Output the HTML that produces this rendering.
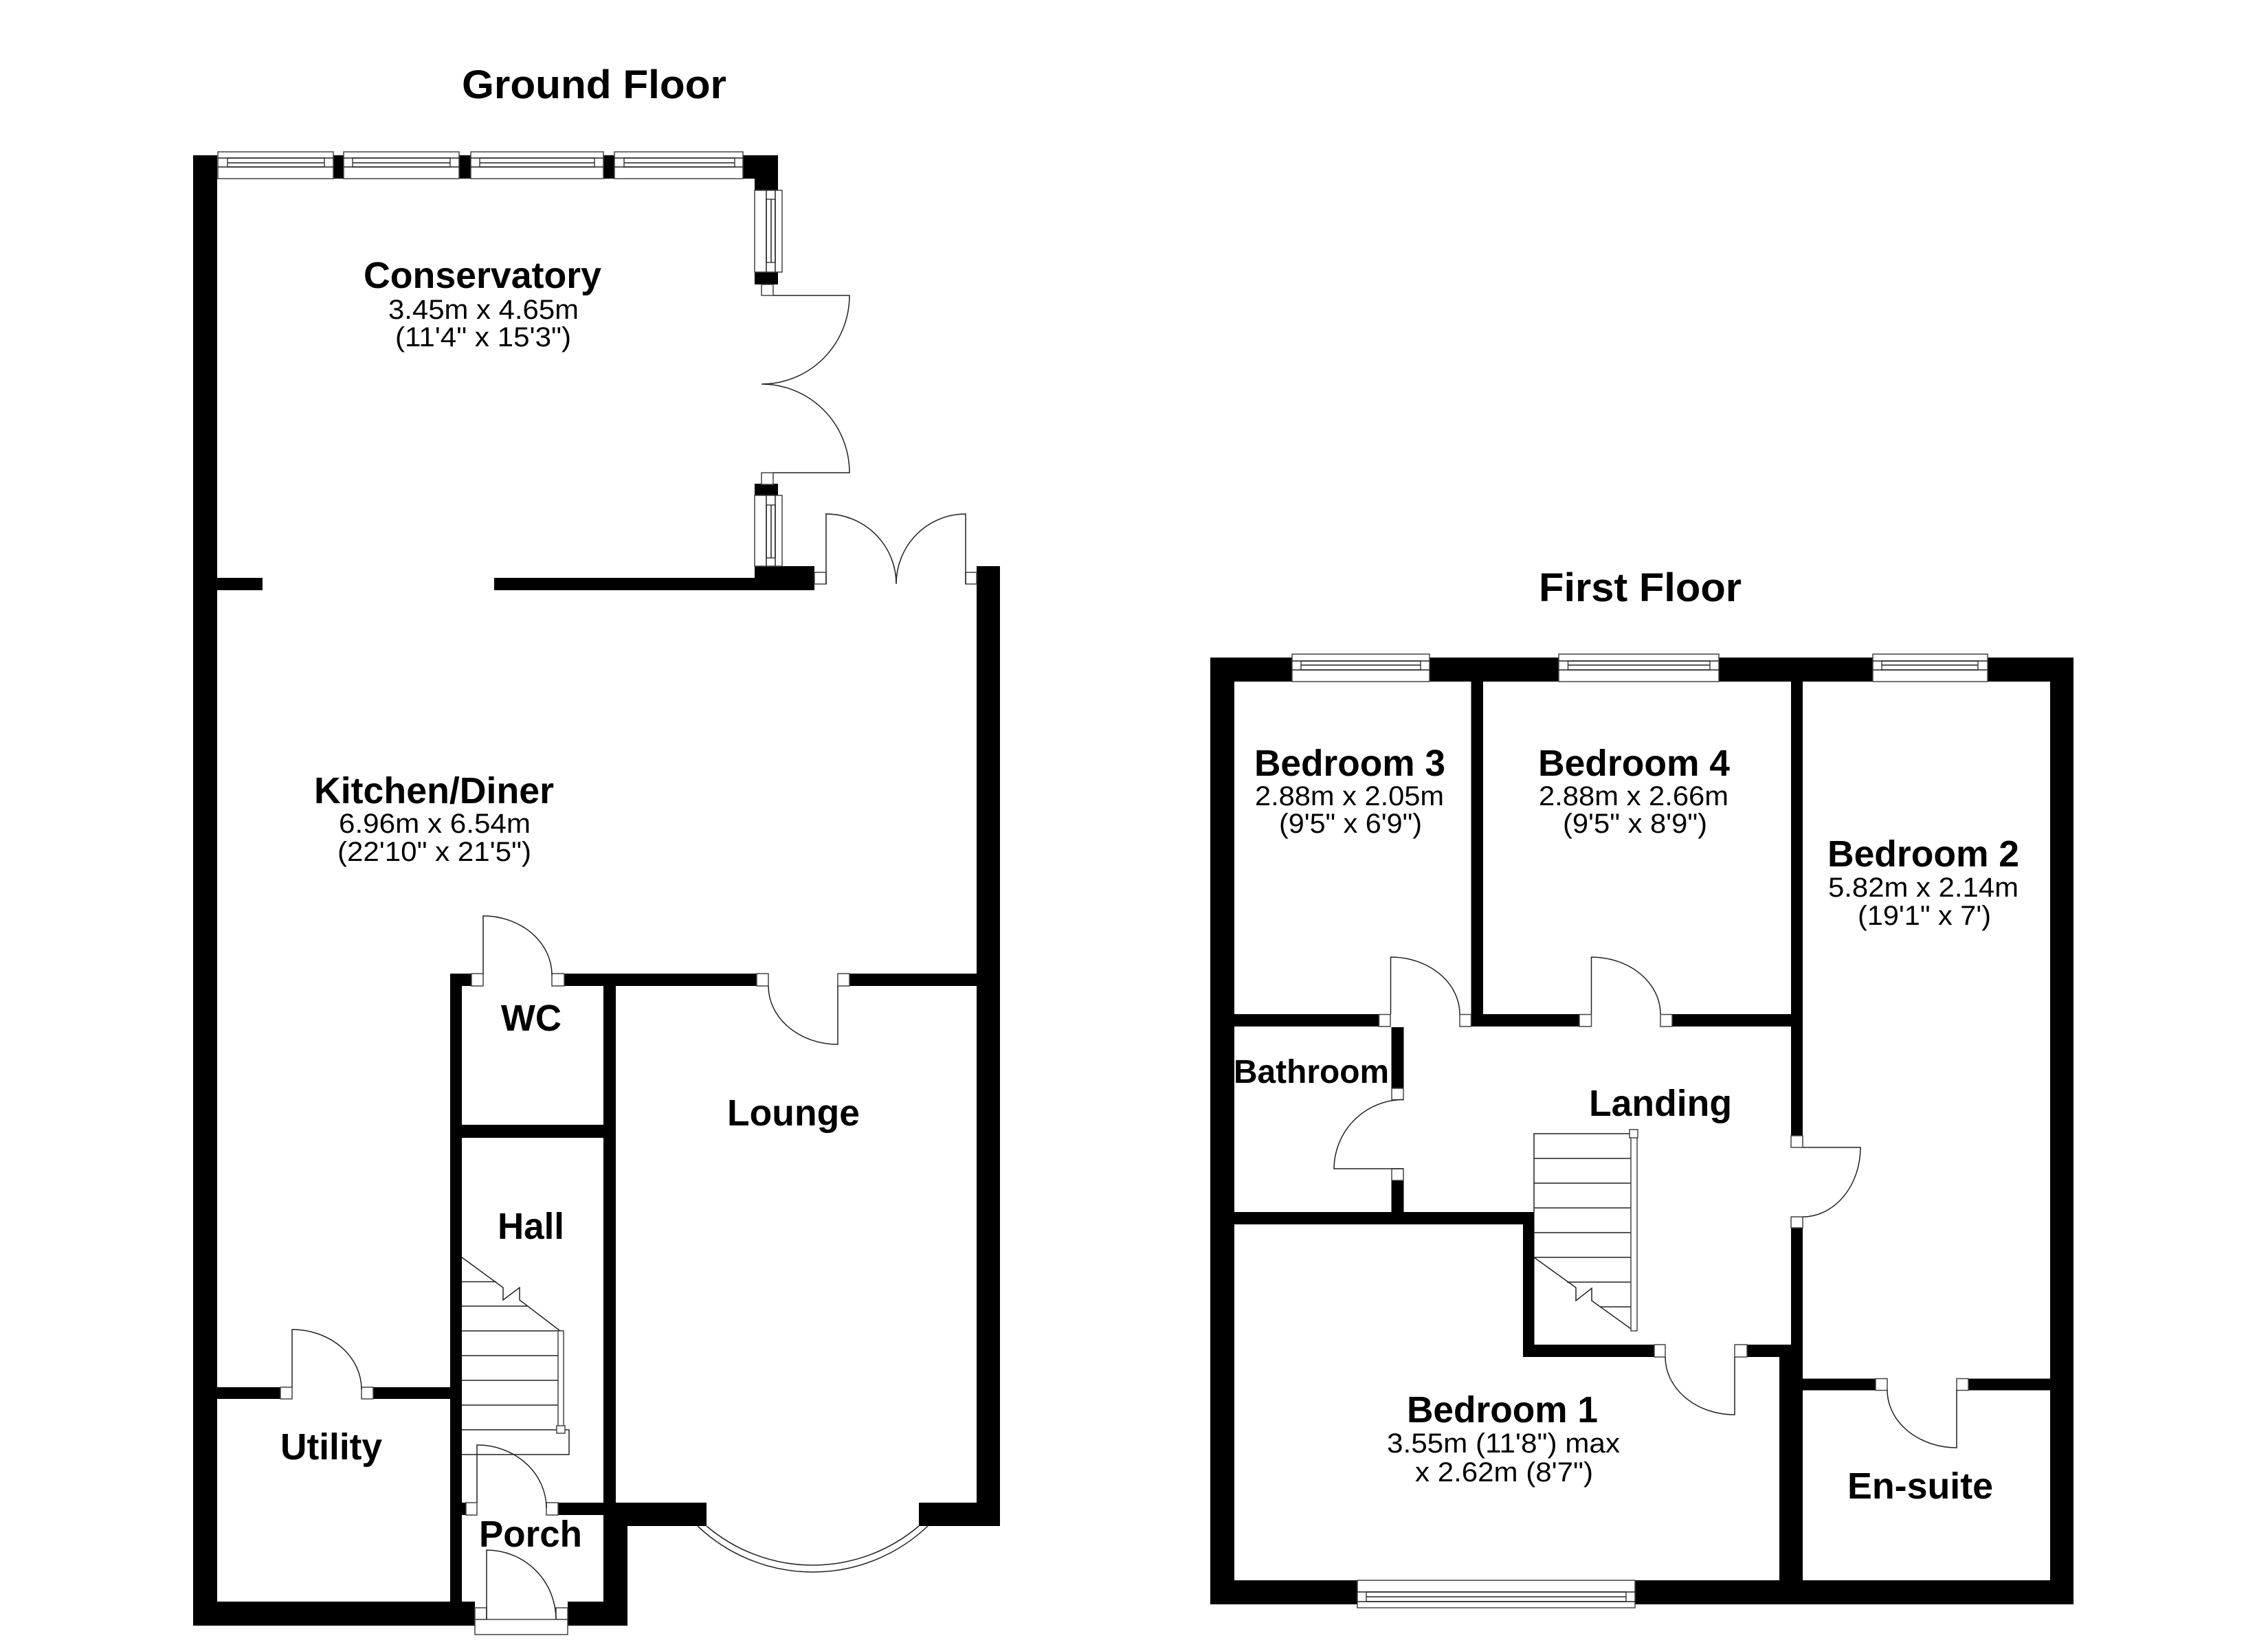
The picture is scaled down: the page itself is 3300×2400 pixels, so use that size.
<!DOCTYPE html>
<html>
<head>
<meta charset="utf-8">
<style>
html,body{margin:0;padding:0;background:#fff;width:3300px;height:2400px;overflow:hidden}
svg{display:block}
text{font-family:"Liberation Sans",Arial,sans-serif;fill:#000}
.t{font-weight:bold;font-size:58px}
.l{font-weight:bold;font-size:54px}
.d{font-size:40px}
.b{fill:#000;stroke:none}
.w{fill:#fff;stroke:#444;stroke-width:1.5}
.n{fill:none;stroke:#222;stroke-width:1.5}
</style>
</head>
<body>
<svg width="3300" height="2400" viewBox="0 0 3300 2400" xmlns="http://www.w3.org/2000/svg">
<rect width="3300" height="2400" fill="#fff"/>

<!-- GROUND FLOOR WALLS -->
<g class="b">
<rect x="281" y="226" width="35" height="2140"/>
<rect x="485" y="226" width="15" height="34"/>
<rect x="668" y="226" width="17" height="34"/>
<rect x="878" y="226" width="16" height="34"/>
<rect x="1081" y="226" width="51" height="34"/>
<rect x="1098" y="226" width="34" height="51"/>
<rect x="1098" y="396" width="34" height="18"/>
<rect x="1098" y="704" width="34" height="17"/>
<rect x="1098" y="824" width="87" height="35"/>
<rect x="719" y="841" width="379" height="18"/>
<rect x="316" y="841" width="66" height="18"/>
<rect x="1421" y="824" width="34" height="1397"/>
<rect x="655" y="1417" width="31" height="18"/>
<rect x="821" y="1417" width="280" height="18"/>
<rect x="1236" y="1417" width="185" height="18"/>
<rect x="655" y="1417" width="17" height="914"/>
<rect x="878" y="1417" width="18" height="914"/>
<rect x="896" y="2221" width="17" height="145"/>
<rect x="281" y="2331" width="410" height="35"/>
<rect x="826" y="2331" width="87" height="35"/>
<rect x="672" y="1637" width="206" height="19"/>
<rect x="316" y="2019" width="92" height="17"/>
<rect x="543" y="2019" width="112" height="17"/>
<rect x="672" y="2187" width="6" height="18"/>
<rect x="812" y="2187" width="66" height="18"/>
<rect x="896" y="2187" width="132" height="34"/>
<rect x="1337" y="2187" width="118" height="34"/>
</g>

<!-- Conservatory top windows -->
<g class="w">
<rect x="317" y="221" width="168" height="39"/><rect x="331" y="230" width="141" height="13"/>
<rect x="500" y="221" width="168" height="39"/><rect x="513" y="230" width="142" height="13"/>
<rect x="685" y="221" width="193" height="39"/><rect x="698" y="230" width="167" height="13"/>
<rect x="894" y="221" width="187" height="39"/><rect x="908" y="230" width="161" height="13"/>
</g>
<path class="n" d="M317 230H485M317 243H485M331 237H472M500 230H668M500 243H668M513 237H655M685 230H878M685 243H878M698 237H865M894 230H1081M894 243H1081M908 237H1069"/>

<!-- Conservatory side windows -->
<g class="w">
<rect x="1098" y="277" width="40" height="119"/><rect x="1115" y="290" width="13" height="92"/>
<rect x="1098" y="721" width="40" height="103"/><rect x="1115" y="735" width="13" height="77"/>
</g>
<path class="n" d="M1115 277V396M1128 277V396M1122 290V382M1115 721V824M1128 721V824M1122 735V812"/>

<!-- Jambs ground -->
<g class="w">
<rect x="1108" y="414" width="17" height="16"/>
<rect x="1108" y="688" width="17" height="17"/>
<rect x="1185" y="833" width="17" height="17"/>
<rect x="1405" y="833" width="16" height="17"/>
<rect x="686" y="1417" width="17" height="18"/>
<rect x="803" y="1417" width="18" height="18"/>
<rect x="1101" y="1417" width="17" height="18"/>
<rect x="1219" y="1417" width="17" height="18"/>
<rect x="408" y="2019" width="17" height="17"/>
<rect x="526" y="2019" width="17" height="17"/>
<rect x="678" y="2187" width="16" height="18"/>
<rect x="795" y="2187" width="17" height="18"/>
<rect x="691" y="2340" width="17" height="17"/>
<rect x="809" y="2340" width="17" height="17"/>
<rect x="691" y="2357" width="135" height="22"/>
</g>

<!-- Door leaves ground -->
<path class="n" d="M1125 430H1236A128 129 0 0 1 1108 559A128 129 0 0 1 1236 688H1125"/>
<path class="n" d="M1202 850V748A102 102 0 0 1 1304 850A101 102 0 0 1 1405 748V850"/>
<path class="n" d="M703 1417V1333A100 86 0 0 1 803 1419"/>
<path class="n" d="M1118 1435A101 85 0 0 0 1219 1520V1435"/>
<path class="n" d="M425 2019V1935A101 87 0 0 1 526 2022"/>
<path class="n" d="M694 2187V2103A101 92 0 0 1 795 2195"/>
<path class="n" d="M708 2340V2256A101 101 0 0 1 809 2357"/>
<path class="n" d="M708 2340V2357"/>

<!-- Bay window -->
<path class="n" d="M1015 2221A243 243 0 0 0 1350 2221"/>
<path class="n" d="M1028 2221A238 238 0 0 0 1337 2221"/>

<!-- Stairs ground -->
<path class="n" d="M672 1830L732 1874V1892L756 1874V1892L815 1937"/>
<path class="n" d="M672 1865.500H722M672 1901H768M672 1937H820M672 1973H812M672 2009H812M672 2045H812M672 2081H828V2117H672"/>
<rect class="w" x="812" y="1937" width="8" height="144"/>
<rect class="w" x="810" y="2075" width="12" height="11"/>

<!-- FIRST FLOOR WALLS -->
<g class="b">
<rect x="1761" y="957" width="1256" height="35"/>
<rect x="1761" y="957" width="35" height="1378"/>
<rect x="2983" y="957" width="34" height="1378"/>
<rect x="1761" y="2300" width="1256" height="35"/>
<rect x="2140.500" y="992" width="17.500" height="502"/>
<rect x="2606" y="992" width="17" height="661"/>
<rect x="2606" y="1787" width="17" height="513"/>
<rect x="2589" y="1975" width="34" height="325"/>
<rect x="1796" y="1476" width="210" height="18"/>
<rect x="2140" y="1476" width="158" height="18"/>
<rect x="2433" y="1476" width="173" height="18"/>
<rect x="2024.500" y="1495" width="18" height="89"/>
<rect x="2024.500" y="1718" width="18" height="46"/>
<rect x="1796" y="1764" width="436.500" height="18"/>
<rect x="2216" y="1764" width="16.500" height="211"/>
<rect x="2216" y="1957" width="191" height="18"/>
<rect x="2542" y="1957" width="64" height="18"/>
<rect x="2623" y="2006.500" width="106" height="17"/>
<rect x="2864" y="2006.500" width="119" height="17"/>
</g>

<!-- First floor windows -->
<g class="w">
<rect x="1880" y="952" width="200" height="40"/><rect x="1893" y="962" width="174" height="13"/>
<rect x="2268" y="952" width="233" height="40"/><rect x="2281.500" y="962" width="206.500" height="13"/>
<rect x="2725" y="952" width="167" height="40"/><rect x="2738" y="962" width="140" height="13"/>
<rect x="1975" y="2300" width="404" height="40"/><rect x="1988" y="2317" width="378" height="14"/>
</g>
<path class="n" d="M1880 962H2080M1880 975H2080M1893 968H2067M2268 962H2501M2268 975H2501M2281 968H2488M2725 962H2892M2725 975H2892M2738 968H2878M1975 2317H2379M1975 2331H2379M1988 2324H2366"/>

<!-- Jambs first -->
<g class="w">
<rect x="2006.500" y="1476.500" width="16.500" height="17.500"/>
<rect x="2124" y="1476.500" width="16.500" height="17.500"/>
<rect x="2298" y="1476.500" width="17.500" height="17.500"/>
<rect x="2416" y="1476.500" width="17" height="17.500"/>
<rect x="2025" y="1584" width="17" height="16.500"/>
<rect x="2025" y="1701" width="17" height="17"/>
<rect x="2606" y="1653" width="17" height="17"/>
<rect x="2606" y="1771" width="17" height="16"/>
<rect x="2407" y="1957" width="16" height="18"/>
<rect x="2524" y="1957" width="18" height="18"/>
<rect x="2729" y="2006.500" width="17" height="17"/>
<rect x="2847" y="2006.500" width="17" height="17"/>
</g>

<!-- Door leaves first -->
<path class="n" d="M2023.500 1476V1393A100.500 83 0 0 1 2124 1476"/>
<path class="n" d="M2315.500 1476V1393A100.500 83 0 0 1 2416 1476"/>
<path class="n" d="M2042 1701H1941A101 101 0 0 1 2042 1600.500"/>
<path class="n" d="M2623 1670H2707A84 101 0 0 1 2623 1771"/>
<path class="n" d="M2423 1975A101 84 0 0 0 2524 2059V1975"/>
<path class="n" d="M2746 2023A101 84 0 0 0 2847 2107V2023"/>

<!-- Stairs first -->
<path class="n" d="M2232 1764V1650H2373M2232 1686H2373M2232 1722H2373M2232 1758H2373M2232 1794H2373M2232 1830H2373M2280 1866H2373M2328 1902H2373"/>
<path class="n" d="M2232 1830L2293 1874V1893L2316 1875V1893L2373 1934"/>
<rect class="w" x="2373" y="1650" width="9" height="287"/>
<rect class="w" x="2371" y="1644" width="12" height="12"/>

<!-- Titles -->
<text class="t" x="672" y="143" textLength="385" lengthAdjust="spacingAndGlyphs">Ground Floor</text>
<text class="t" x="2239" y="875" textLength="295" lengthAdjust="spacingAndGlyphs">First Floor</text>

<!-- Ground labels -->
<text class="l" x="529" y="419" textLength="346" lengthAdjust="spacingAndGlyphs">Conservatory</text>
<text class="d" x="565" y="464" textLength="277" lengthAdjust="spacingAndGlyphs">3.45m x 4.65m</text>
<text class="d" x="575" y="504" textLength="256" lengthAdjust="spacingAndGlyphs">(11'4" x 15'3")</text>

<text class="l" x="457" y="1169" textLength="349" lengthAdjust="spacingAndGlyphs">Kitchen/Diner</text>
<text class="d" x="493" y="1212" textLength="279" lengthAdjust="spacingAndGlyphs">6.96m x 6.54m</text>
<text class="d" x="491" y="1253" textLength="282" lengthAdjust="spacingAndGlyphs">(22'10" x 21'5")</text>

<text class="l" x="729" y="1500" textLength="88" lengthAdjust="spacingAndGlyphs">WC</text>
<text class="l" x="1058" y="1638" textLength="193" lengthAdjust="spacingAndGlyphs">Lounge</text>
<text class="l" x="724" y="1803" textLength="97" lengthAdjust="spacingAndGlyphs">Hall</text>
<text class="l" x="408" y="2124" textLength="148" lengthAdjust="spacingAndGlyphs">Utility</text>
<text class="l" x="697" y="2251" textLength="150" lengthAdjust="spacingAndGlyphs">Porch</text>

<!-- First labels -->
<text class="l" x="1825" y="1129" textLength="278" lengthAdjust="spacingAndGlyphs">Bedroom 3</text>
<text class="d" x="1826" y="1172" textLength="275" lengthAdjust="spacingAndGlyphs">2.88m x 2.05m</text>
<text class="d" x="1861" y="1212" textLength="208" lengthAdjust="spacingAndGlyphs">(9'5" x 6'9")</text>

<text class="l" x="2238" y="1129" textLength="279" lengthAdjust="spacingAndGlyphs">Bedroom 4</text>
<text class="d" x="2239" y="1172" textLength="276" lengthAdjust="spacingAndGlyphs">2.88m x 2.66m</text>
<text class="d" x="2274" y="1212" textLength="210" lengthAdjust="spacingAndGlyphs">(9'5" x 8'9")</text>

<text class="l" x="2659" y="1261" textLength="279" lengthAdjust="spacingAndGlyphs">Bedroom 2</text>
<text class="d" x="2660" y="1305" textLength="277" lengthAdjust="spacingAndGlyphs">5.82m x 2.14m</text>
<text class="d" x="2703" y="1346" textLength="194" lengthAdjust="spacingAndGlyphs">(19'1" x 7')</text>

<text class="l" style="font-size:48px" x="1795" y="1576" textLength="226" lengthAdjust="spacingAndGlyphs">Bathroom</text>
<text class="l" x="2312" y="1624" textLength="208" lengthAdjust="spacingAndGlyphs">Landing</text>

<text class="l" x="2047" y="2070" textLength="278" lengthAdjust="spacingAndGlyphs">Bedroom 1</text>
<text class="d" x="2018" y="2114" textLength="339" lengthAdjust="spacingAndGlyphs">3.55m (11'8") max</text>
<text class="d" x="2059" y="2156" textLength="259" lengthAdjust="spacingAndGlyphs">x 2.62m (8'7")</text>

<text class="l" x="2688" y="2181" textLength="212" lengthAdjust="spacingAndGlyphs">En-suite</text>
</svg>
</body>
</html>
